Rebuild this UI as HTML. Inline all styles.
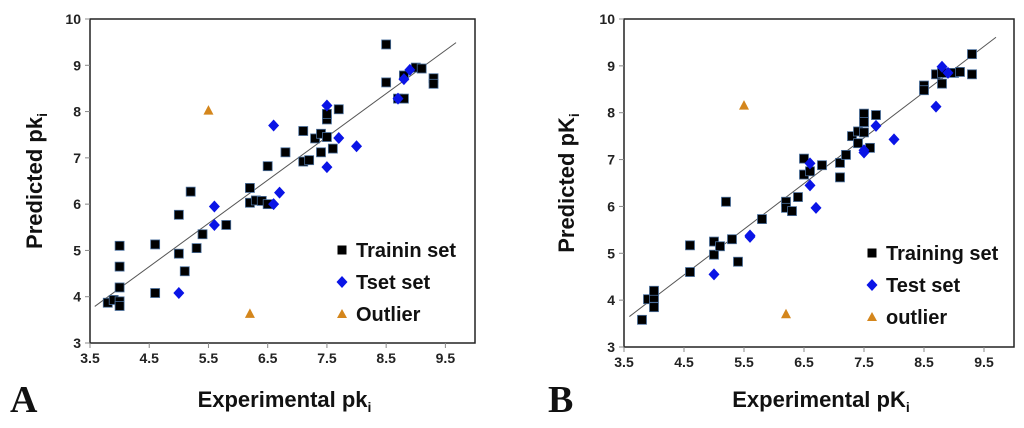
<!DOCTYPE html>
<html><head><meta charset="utf-8">
<style>
html,body{margin:0;padding:0;background:#fff;}
svg{display:block;font-family:"Liberation Sans",sans-serif;}
</style></head>
<body>
<svg id="chart" width="1024" height="428" viewBox="0 0 1024 428" xmlns="http://www.w3.org/2000/svg"></svg>
<script>
const xTicks=[3.5,4.5,5.5,6.5,7.5,8.5,9.5];
const xTickLabels=["3.5","4.5","5.5","6.5","7.5","8.5","9.5"];
const yTicks=[3,4,5,6,7,8,9,10];
const yTickLabels=["3","4","5","6","7","8","9","10"];

const trainAx=[3.8,3.9,4.0,4.0,4.0,4.0,4.0,4.6,4.6,5.0,5.0,5.1,5.2,5.3,5.4,5.8,6.2,6.2,6.3,6.4,6.5,6.5,6.8,7.1,7.1,7.2,7.3,7.4,7.4,7.5,7.5,7.5,7.6,7.7,8.5,8.5,8.7,8.8,8.8,9.0,9.1,9.3,9.3];
const trainAy=[3.87,3.93,3.9,3.8,4.2,4.65,5.1,4.08,5.13,4.93,5.77,4.55,6.27,5.05,5.35,5.55,6.35,6.03,6.08,6.07,6.0,6.82,7.12,6.92,7.58,6.95,7.42,7.52,7.12,7.45,7.83,7.95,7.2,8.05,9.45,8.63,8.28,8.28,8.78,8.95,8.93,8.72,8.6];
const testAx=[5.0,5.6,5.6,6.6,6.6,6.7,7.5,7.5,7.7,8.0,8.7,8.8,8.9];
const testAy=[4.08,5.55,5.95,7.7,6.0,6.25,8.13,6.8,7.43,7.25,8.28,8.7,8.9];
const outAx=[5.5,6.2];
const outAy=[8.02,3.63];
const fitAx=[3.58,9.68];
const fitAy=[3.79,9.49];

const trainBx=[3.8,3.9,4.0,4.0,4.0,4.6,4.6,5.0,5.0,5.1,5.2,5.3,5.4,5.8,6.2,6.2,6.3,6.4,6.5,6.5,6.6,6.8,7.1,7.1,7.2,7.3,7.4,7.4,7.5,7.5,7.5,7.6,7.7,8.5,8.5,8.7,8.8,8.8,9.0,9.1,9.3,9.3];
const trainBy=[3.58,4.02,4.05,4.2,3.85,5.17,4.6,5.25,4.97,5.15,6.1,5.3,4.82,5.73,6.1,5.97,5.9,6.2,7.02,6.68,6.75,6.88,6.93,6.62,7.1,7.5,7.6,7.35,7.98,7.8,7.58,7.25,7.95,8.58,8.48,8.82,8.62,8.85,8.85,8.87,9.25,8.82];
const testBx=[5.0,5.6,5.6,6.6,6.6,6.7,7.5,7.5,7.7,8.0,8.7,8.8,8.9];
const testBy=[4.55,5.35,5.38,6.92,6.45,5.97,7.2,7.15,7.72,7.43,8.13,8.98,8.85];
const outBx=[5.5,6.2];
const outBy=[8.15,3.7];
const fitBx=[3.59,9.70];
const fitBy=[3.65,9.61];

const NS="http://www.w3.org/2000/svg";
const svg=document.getElementById('chart');
function mk(tag,attrs,parent){const e=document.createElementNS(NS,tag);for(const k in attrs)e.setAttribute(k,attrs[k]);(parent||svg).appendChild(e);return e;}

function panel(cfg){
  const g=mk('g',{});
  
  
  const sx=v=>cfg.L+(v-3.5)/6.5*(cfg.R-cfg.L);
  const sy=v=>cfg.B-(v-3)/7*(cfg.B-cfg.T);
  const frame=mk('rect',{x:cfg.L,y:cfg.T,width:cfg.R-cfg.L,height:cfg.B-cfg.T,fill:'none',stroke:'#222','stroke-width':1.5},g);
  
  
  xTicks.forEach((t,i)=>{
    mk('line',{x1:sx(t),x2:sx(t),y1:cfg.B,y2:cfg.B+5,stroke:'#888'},g);
    const tx=mk('text',{x:sx(t),y:cfg.B+20,'text-anchor':'middle','font-size':14,'font-weight':'bold',fill:'#222'},g);
    tx.textContent=xTickLabels[i];
    
    
  });
  yTicks.forEach((t,i)=>{
    mk('line',{x1:cfg.L-5,x2:cfg.L,y1:sy(t),y2:sy(t),stroke:'#888'},g);
    const tx=mk('text',{x:cfg.L-9,y:sy(t)+5,'text-anchor':'end','font-size':14,'font-weight':'bold',fill:'#222'},g);
    tx.textContent=yTickLabels[i];
    
    
  });
  const fl=mk('line',{x1:sx(cfg.fx[0]),y1:sy(cfg.fy[0]),x2:sx(cfg.fx[1]),y2:sy(cfg.fy[1]),stroke:'#555','stroke-width':1},g);
  
  
  cfg.tx.forEach((x,i)=>{
    const r=mk('rect',{x:sx(x)-4.5,y:sy(cfg.ty[i])-4.5,width:9,height:9,fill:'#000',stroke:'#4a6f9c','stroke-width':0.8},g);
    
    
  });
  cfg.sx_.forEach((x,i)=>{
    const cx=sx(x),cy=sy(cfg.sy_[i]);
    const p=mk('polygon',{points:`${cx},${cy-6} ${cx+5.5},${cy} ${cx},${cy+6} ${cx-5.5},${cy}`,fill:'#0a14e6'},g);
    
    
  });
  cfg.ox.forEach((x,i)=>{
    const cx=sx(x),cy=sy(cfg.oy[i]);
    const p=mk('polygon',{points:`${cx},${cy-5.5} ${cx+5},${cy+4} ${cx-5},${cy+4}`,fill:'#d4861c'},g);
    
    
  });
  const lg=mk('g',{},g);
  
  
  cfg.leg.forEach((lab,i)=>{
    const cy=cfg.legY+i*cfg.legDy, cx=cfg.legX;
    if(i===0) mk('rect',{x:cx-4.5,y:cy-4.5,width:9,height:9,fill:'#000'},lg);
    if(i===1) mk('polygon',{points:`${cx},${cy-6} ${cx+5.5},${cy} ${cx},${cy+6} ${cx-5.5},${cy}`,fill:'#0a14e6'},lg);
    if(i===2) mk('polygon',{points:`${cx},${cy-5} ${cx+5},${cy+4} ${cx-5},${cy+4}`,fill:'#d4861c'},lg);
    const t=mk('text',{x:cx+14,y:cy+7,'font-size':20,'font-weight':'bold',fill:'#111'},lg);
    t.textContent=lab;
    
    
  });
  const yt=mk('text',{x:0,y:0,transform:`translate(${cfg.ytX},${(cfg.T+cfg.B)/2}) rotate(-90)`,'text-anchor':'middle','font-size':22,'font-weight':'bold',fill:'#111'},g);
  yt.innerHTML='Predicted '+cfg.yk+'<tspan font-size="14" dy="5">i</tspan>';
  
  
  const xt=mk('text',{x:(cfg.L+cfg.R)/2+2,y:407,'text-anchor':'middle','font-size':22,'font-weight':'bold',fill:'#111'},g);
  xt.innerHTML='Experimental '+cfg.xk+'<tspan font-size="14" dy="5">i</tspan>';
  
  
  const pl=mk('text',{x:cfg.labX,y:412,'font-family':'Liberation Serif, serif','font-size':38,'font-weight':'bold',fill:'#111'},g);
  pl.textContent=cfg.lab;
  
  
}

panel({name:'panel-a',L:90,R:475,T:19,B:343,tx:trainAx,ty:trainAy,sx_:testAx,sy_:testAy,ox:outAx,oy:outAy,fx:fitAx,fy:fitAy,
  leg:['Trainin set','Tset set','Outlier'],legX:342,legY:250,legDy:32,ytX:42,yk:'pk',xk:'pk',lab:'A',labX:10});
panel({name:'panel-b',L:624,R:1014,T:19,B:347,tx:trainBx,ty:trainBy,sx_:testBx,sy_:testBy,ox:outBx,oy:outBy,fx:fitBx,fy:fitBy,
  leg:['Training set','Test set','outlier'],legX:872,legY:253,legDy:32,ytX:574,yk:'pK',xk:'pK',lab:'B',labX:548});
</script>
</body></html>
